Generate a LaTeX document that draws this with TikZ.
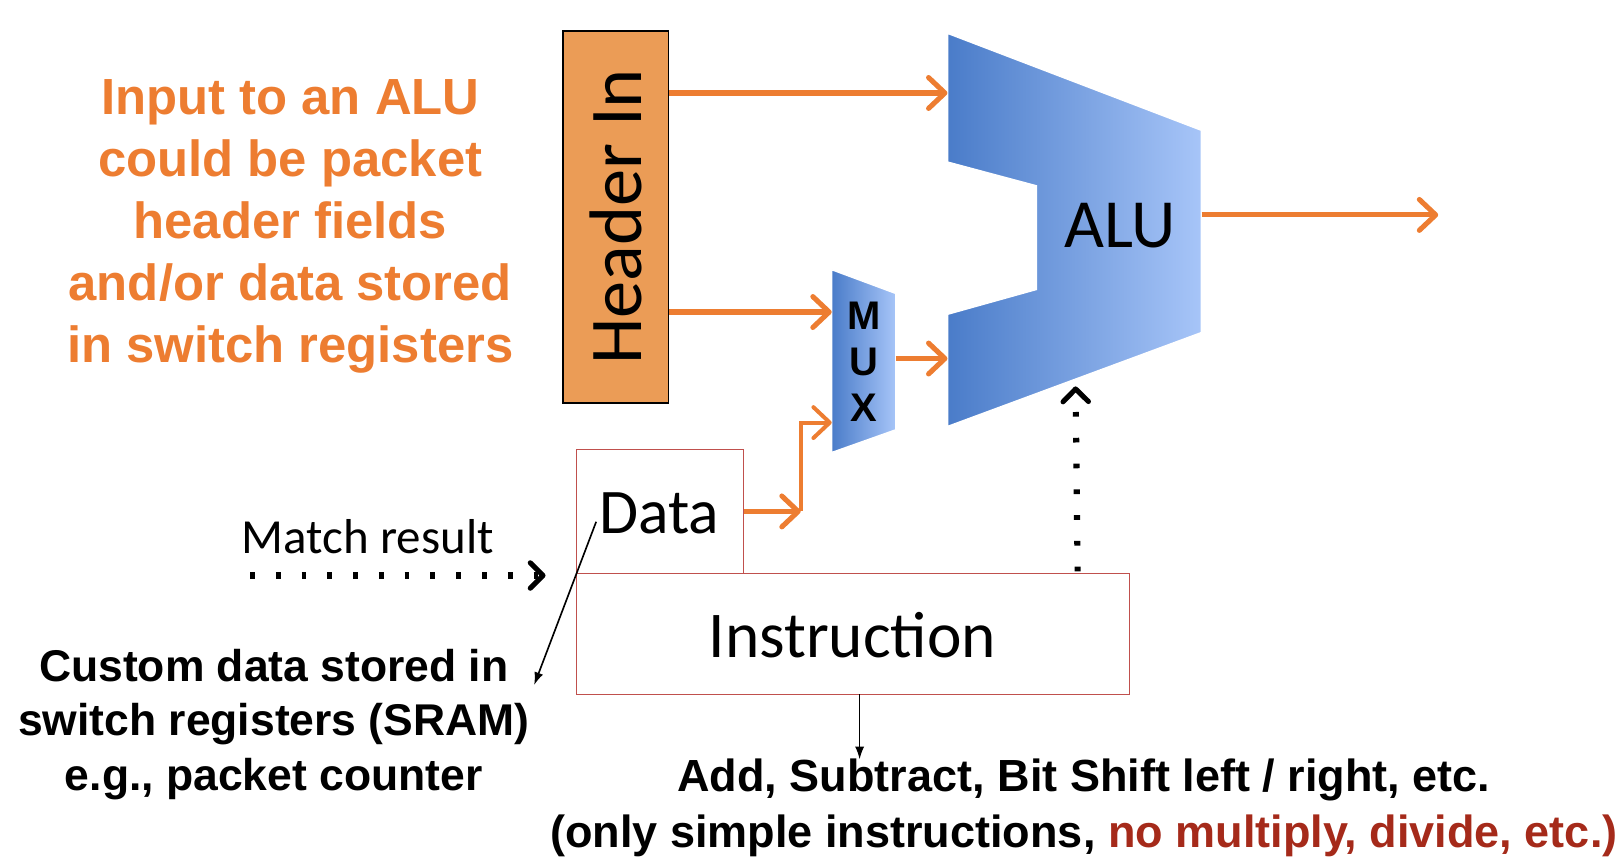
\documentclass[tikz,border=0pt]{standalone}
\usepackage{fontspec}
\setmainfont{Liberation Sans}
\newfontfamily\calibri{Carlito}
\usepackage{xcolor}
\usetikzlibrary{arrows.meta,positioning,calc}

\definecolor{aluDark}{HTML}{4A7CC9}
\definecolor{aluLight}{HTML}{A7C5F8}
\definecolor{hdrFill}{HTML}{EB9C56}
\definecolor{lineOrange}{HTML}{ED7D31}
\definecolor{boxRed}{HTML}{C0504D}
\definecolor{noteRed}{HTML}{A52A1A}

\tikzset{
  oarrow/.style={draw=lineOrange, line width=2.8pt, -{Straight Barb[round,length=9pt,width=17pt]}},
  dotarrow/.style={draw=black, line width=3.4pt, dash pattern=on 2.6pt off 11.6pt, -{Straight Barb[round,length=7pt,width=14pt,line width=2.8pt]}},
  thinarrow/.style={draw=black, line width=0.9pt, -{Latex[length=7pt,width=5pt]}},
  redbox/.style={draw=boxRed, line width=0.6pt, inner sep=0pt},
  bignote/.style={font=\fontsize{24.5}{30}\selectfont\bfseries, align=center}
}

\begin{document}
\begin{tikzpicture}[x=0.02cm,y=-0.02cm]
\useasboundingbox (0,0) rectangle (1566,832);

% ALU
\shadedraw[left color=aluDark, right color=aluLight, draw=white, line width=1pt]
  (917,32) -- (1163,126) -- (1163,322) -- (917,413) -- (917,304)
  -- (1003,280) -- (1003,180) -- (917,157) -- cycle;
\node[font=\calibri\fontsize{38}{40}\selectfont] (alu) at (1084,218) {ALU};
\coordinate (aluIn1) at (917,90);
\coordinate (aluIn2) at (917,347);
\coordinate (aluOut) at (1163,208);
\coordinate (aluCtl) at (1041,374);
\coordinate (resEnd) at (1392,208);

% MUX
\shadedraw[left color=aluDark, right color=aluLight, draw=white, line width=0.8pt]
  (805,261) -- (867,284) -- (867,416) -- (805,438) -- cycle;
\node[font=\fontsize{22}{25.5}\selectfont\bfseries, align=center] (mux) at (836,350) {M\\U\\X};
\coordinate (muxIn1) at (805,302);
\coordinate (muxIn3) at (805,409);
\coordinate (muxOut) at (867,347);

% Header In
\node[draw=black, line width=0.8pt, fill=hdrFill, minimum width=2.04cm, minimum height=7.2cm,
  font=\calibri\fontsize{41}{44}\selectfont] (hdr) at (596,210) {\rotatebox{90}{Header In}};

% Data and Instruction
\node[redbox, minimum width=3.24cm, minimum height=2.4cm] (data) at (639,495) {};
\node[font=\calibri\fontsize{35}{38}\selectfont] (dataTxt) at (638,497) {Data};
\node[redbox, minimum width=10.7cm, minimum height=2.34cm] (instr) at (825.5,613.5) {};
\node[font=\calibri\fontsize{36}{40}\selectfont] (instrTxt) at (825,615) {Instruction};
\coordinate (dCorner) at (775,495);

% orange connectors
\draw[oarrow] (hdr.east |- aluIn1) -- (aluIn1);
\draw[oarrow] (hdr.east |- muxIn1) -- (muxIn1);
\draw[oarrow] (muxOut) -- (aluIn2);
\draw[oarrow] (aluOut) -- (resEnd);
\draw[oarrow] (data.east |- dCorner) -- (dCorner);
\draw[oarrow, line width=2.2pt] (dCorner) |- (muxIn3);

% match result
\node[font=\calibri\fontsize{27}{30}\selectfont] (match) at (356,519) {Match result};
\coordinate (mrStart) at (242,557);
\coordinate (mrEnd) at (528,557);
\draw[dotarrow] (mrStart) -- (mrEnd);
\coordinate (ctlStart) at (1043,553);
\draw[dotarrow] (ctlStart) -- (aluCtl);

% notes
\node[bignote, font=\fontsize{28}{34.2}\selectfont\bfseries, text=lineOrange] (inNote) at (281,219)
  {Input to an ALU\\could be packet\\header fields\\and/or data stored\\in switch registers};
\node[bignote] (custNote) at (265,701)
  {Custom data stored in\\switch registers (SRAM)\\e.g., packet counter};
\node[bignote, font=\fontsize{24.8}{30.5}\selectfont\bfseries] (opsNote) at (1049,782)
  {Add, Subtract, Bit Shift left / right, etc.\\(only simple instructions, \textcolor{noteRed}{no multiply, divide, etc.)}};

\coordinate (dataPt) at (577,505);
\coordinate (custEnd) at (517,663);
\draw[thinarrow] (dataPt) -- (custEnd);
\coordinate (instrOut) at (832,672);
\coordinate (opsIn) at (832,735);
\draw[thinarrow] (instrOut) -- (opsIn);
\end{tikzpicture}
\end{document}
